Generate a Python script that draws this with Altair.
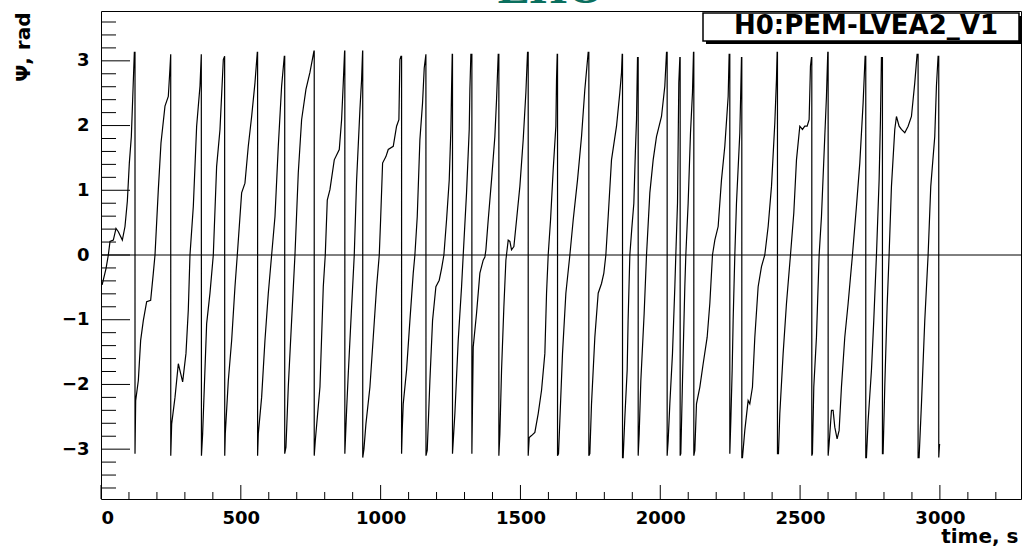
import altair as alt
import pandas as pd

# ---- data (time in s, phase in rad) ----
time_s = [
    4, 17.9, 26.2, 32.2, 44.1, 53.7, 62, 76.3, 85.8, 94.2, 101.3, 108.5, 113.2, 119.2, 121.6, 121.6,
    124, 133.5, 141.8, 151.4, 163.3, 177.6, 187.1, 193.1, 205, 214.5, 228.8, 240.7, 246.7, 249.3, 249.5,
    252.7, 264.6, 276.5, 284.8, 292, 303.9, 312.2, 318.2, 330.1, 342, 354, 358.7, 359.2,
    363.5, 369.5, 377.8, 389.7, 401.6, 413.5, 425.5, 437.4, 442.1, 442.5,
    444.5, 455.3, 467.2, 479.1, 487.4, 502.9, 514.8, 526.7, 538.7, 550.6, 558.9, 560, 560,
    562.5, 574.4, 586.3, 598.3, 610.2, 622.1, 634, 645.9, 655.5, 657, 657,
    661.4, 669.7, 681.7, 693.6, 705.5, 717.4, 732.9, 747.2, 761.5, 762.5, 762.5,
    766.3, 783, 794.9, 802, 809.2, 818.7, 834.2, 852.1, 860.4, 866.4, 871.1, 872, 872,
    878.3, 884.3, 896.2, 905.7, 914.1, 926, 931.9, 935.5, 936, 936,
    940.3, 947.4, 961.7, 973.6, 985.6, 995.1, 999.9, 1007, 1018.9, 1027.2, 1045.1, 1057, 1065.3, 1068.9, 1072.5, 1074.9, 1074.9,
    1077.2, 1080.8, 1092.7, 1104.7, 1116.6, 1122.5, 1130.9, 1140.4, 1149.9, 1155.9, 1161.9, 1162.2,
    1166.6, 1176.2, 1185.7, 1197.6, 1209.5, 1217.9, 1226.2, 1235.7, 1245.3, 1251.2, 1253.6, 1256, 1257, 1257,
    1265.5, 1277.4, 1289.4, 1295.3, 1307.2, 1316.8, 1319.2, 1322.7, 1326.3, 1326.3,
    1329, 1331.1, 1343, 1354.9, 1366.8, 1372.8, 1376.4, 1384.7, 1396.6, 1408.5, 1414.5, 1420.5, 1422.8, 1422.8,
    1426.4, 1432.4, 1440.7, 1447.9, 1456.2, 1462.2, 1468.1, 1476.5, 1486, 1497.9, 1509.8, 1519.4, 1525.3, 1527.7, 1527.7,
    1531.3, 1539.6, 1551.5, 1563.5, 1575.4, 1587.3, 1593.3, 1599.2, 1607.6, 1617.1, 1626.6, 1629, 1631.4, 1632.6, 1632.6,
    1636.2, 1640.9, 1650.4, 1662.4, 1676.7, 1688.6, 1704.1, 1718.4, 1730.3, 1742.2, 1744.6, 1744.6,
    1748.2, 1754.1, 1766, 1778, 1789.9, 1798.2, 1805.4, 1813.7, 1825.6, 1843.5, 1855.4, 1861.4, 1863.8, 1865, 1865,
    1867.3, 1873.3, 1881.6, 1885, 1891.2, 1898, 1905.5, 1911, 1915, 1918.6, 1921, 1921,
    1924.6, 1930.5, 1942.4, 1950.8, 1962.7, 1974.6, 1986.5, 2004.4, 2016.3, 2022.3, 2024.6, 2024.6,
    2028.2, 2034.2, 2043.7, 2052.1, 2055.6, 2061.6, 2066.3, 2070, 2071.1, 2071.1,
    2073.5, 2079.5, 2087.8, 2091.4, 2099.7, 2108.1, 2115.2, 2118.8, 2120, 2120,
    2123.6, 2129.5, 2141.5, 2153.4, 2167.7, 2177.2, 2186.7, 2195.1, 2207, 2218.9, 2230.8, 2242.8, 2246.3, 2248.7, 2248.7,
    2252.3, 2257.1, 2260.6, 2266.6, 2272.5, 2284.5, 2288, 2290.4, 2291.6, 2291.6,
    2294, 2302.3, 2314.2, 2320.2, 2329.7, 2338.1, 2350, 2361.9, 2373.8, 2385.8, 2397.7, 2409.6, 2415.5, 2417.9, 2419.1, 2419.1,
    2422.7, 2427.5, 2439.4, 2451.3, 2465.6, 2477.5, 2487.1, 2499, 2508.5, 2516.8, 2525.2, 2532.3, 2537.1, 2540.7, 2541.9, 2541.9,
    2544.2, 2549, 2558.5, 2568.1, 2576.4, 2588.3, 2594.3, 2599, 2600.3, 2600.3,
    2603.8, 2612.2, 2618.1, 2624.1, 2632.4, 2639.6, 2647.9, 2659.8, 2671.8, 2687.3, 2701.5, 2713.5, 2725.4, 2732.5, 2734.9, 2734.9,
    2737.3, 2743.3, 2755.2, 2763.5, 2773.1, 2782.6, 2787.4, 2790.9, 2794.5, 2794.5,
    2796.9, 2802.8, 2811.2, 2818.3, 2826.7, 2838.6, 2844.6, 2854.1, 2862.4, 2874.4, 2886.3, 2898.2, 2910.1, 2918.4, 2922, 2922,
    2925.6, 2934, 2945.9, 2957.8, 2967.3, 2981.6, 2987.6, 2993.5, 2995.9, 2995.9,
    2998, 2999,
]
psi_rad = [
    -0.46, -0.21, 0, 0.21, 0.23, 0.41, 0.36, 0.23, 0.44, 0.83, 1.42, 1.83, 2.40, 3.13, 3.13, -3.07,
    -2.25, -1.94, -1.32, -1.01, -0.72, -0.70, -0.28, 0, 1.01, 1.73, 2.30, 2.45, 2.89, 3.10, -3.10,
    -2.61, -2.20, -1.68, -1.83, -1.96, -1.52, -0.85, 0, 0.75, 1.99, 2.61, 3.10, -3.10,
    -2.76, -2.04, -1.06, -0.59, 0, 1.37, 1.94, 3.02, 3.07, -3.10,
    -2.76, -1.94, -1.32, -0.49, 0, 0.96, 1.11, 1.68, 2.14, 2.66, 3.13, 3.13, -3.10,
    -2.76, -2.20, -1.32, -0.59, 0, 0.59, 1.68, 2.61, 3.07, 3.07, -3.07,
    -2.97, -2.04, -1.01, 0, 1.27, 2.09, 2.56, 2.82, 3.15, 3.15, -3.10,
    -2.87, -2.04, -0.49, 0, 0.85, 1.01, 1.47, 1.63, 2.09, 2.66, 3.15, 3.15, -3.07,
    -2.40, -1.83, -0.80, 0, 1.16, 2.25, 2.71, 3.15, 3.15, -3.13,
    -3.00, -2.61, -2.04, -1.27, -0.49, 0, 0.54, 1.42, 1.52, 1.63, 1.68, 1.99, 2.09, 3.02, 3.07, 3.07, -3.07,
    -2.71, -2.30, -1.78, -1.01, -0.28, 0, 0.59, 1.78, 2.35, 2.89, 3.10, -3.10,
    -3.02, -1.94, -1.01, -0.49, -0.39, -0.21, 0, 0.54, 1.16, 1.94, 2.56, 3.10, 3.10, -3.07,
    -2.45, -1.32, -0.49, 0, 0.96, 1.94, 2.56, 3.10, 3.10, -3.07,
    -2.14, -1.42, -0.90, -0.28, -0.08, -0.03, 0.08, 0.54, 1.16, 1.83, 2.40, 3.10, 3.10, -3.10,
    -2.76, -1.78, -0.80, -0.08, 0.23, 0.21, 0.08, 0.13, 0.54, 1.06, 1.78, 2.51, 3.13, 3.13, -3.10,
    -2.82, -2.79, -2.74, -2.45, -2.09, -1.52, -0.59, 0, 0.54, 1.32, 1.99, 2.71, 3.10, 3.10, -3.10,
    -3.07, -2.56, -1.52, -0.59, 0, 0.54, 1.16, 1.83, 2.56, 3.13, 3.13, -3.10,
    -3.07, -2.30, -1.27, -0.59, -0.44, -0.28, 0, 0.59, 1.47, 1.99, 2.51, 2.82, 3.10, 3.10, -3.13,
    -3.13, -2.51, -1.78, -1.00, 0, 0.40, 0.80, 1.60, 2.09, 3.05, 3.05, -3.10,
    -2.76, -1.94, -0.90, 0, 0.96, 1.47, 1.83, 2.14, 2.61, 3.13, 3.13, -3.10,
    -2.87, -2.30, -1.52, -0.49, 0, 0.80, 2.66, 3.05, 3.05, -3.10,
    -3.07, -1.94, -0.49, 0, 0.80, 1.89, 2.51, 3.13, 3.13, -3.10,
    -3.02, -2.30, -2.04, -1.68, -1.27, -0.75, 0, 0.23, 0.44, 1.16, 1.68, 2.45, 3.10, 3.10, -3.07,
    -2.56, -1.78, -1.01, 0, 0.80, 1.89, 2.56, 3.05, 3.05, -3.13,
    -3.13, -2.71, -2.25, -2.30, -2.04, -1.27, -0.49, -0.18, 0, 0.44, 1.06, 2.04, 2.71, 3.13, 3.13, -3.07,
    -3.07, -2.45, -1.52, -0.75, 0, 0.65, 1.47, 1.99, 1.94, 1.99, 1.99, 2.09, 2.92, 3.05, 3.05, -3.10,
    -3.07, -2.04, -1.27, 0, 0.59, 1.83, 2.45, 3.13, 3.13, -3.10,
    -2.92, -2.40, -2.40, -2.66, -2.84, -2.71, -2.04, -1.27, -0.75, 0, 0.75, 1.42, 2.35, 3.07, 3.07, -3.13,
    -3.13, -2.56, -1.78, -1.01, 0, 1.16, 2.09, 3.05, 3.05, -3.07,
    -3.07, -2.04, -0.80, 0, 1.06, 1.94, 2.14, 1.99, 1.94, 1.89, 1.99, 2.14, 2.66, 3.10, 3.10, -3.13,
    -3.13, -2.30, -1.01, 0, 1.06, 1.83, 2.61, 3.07, 3.07, -3.13,
    -2.97, -2.92,
]

x_major = [0, 500, 1000, 1500, 2000, 2500, 3000]
x_minor = [100, 200, 300, 400, 600, 700, 800, 900, 1100, 1200, 1300, 1400,
           1600, 1700, 1800, 1900, 2100, 2200, 2300, 2400, 2600, 2700, 2800,
           2900, 3100, 3200]
y_major = [-3, -2, -1, 0, 1, 2, 3]
y_minor = [-3.6, -3.4, -3.2, -2.8, -2.6, -2.4, -2.2, -1.8, -1.6, -1.4, -1.2,
           -0.8, -0.6, -0.4, -0.2, 0.2, 0.4, 0.6, 0.8, 1.2, 1.4, 1.6, 1.8,
           2.2, 2.4, 2.6, 2.8, 3.2, 3.4, 3.6]

channel_name = "H0:PEM-LVEA2_V1"
site_title = "LHO"

W, H = 920, 488
FONT = "DejaVu Sans"

xs = alt.Scale(domain=[0, 3290], nice=False, zero=False)
ys = alt.Scale(domain=[-3.77, 3.77], nice=False, zero=False)

df = pd.DataFrame({"t": time_s, "psi": psi_rad, "i": list(range(len(time_s)))})

line = alt.Chart(df).mark_line(color="black", strokeWidth=1.2, clip=True).encode(
    x=alt.X("t:Q", scale=xs, axis=alt.Axis(
        values=x_major, format="d", title="time, s", labelPadding=10,
        titleX=917, titleY=43, titleAlign="right", titleBaseline="alphabetic",
        titleAngle=0, titleFontSize=20)),
    y=alt.Y("psi:Q", scale=ys, axis=alt.Axis(
        values=y_major, format="d", title="Ψ, rad", labelPadding=12,
        titleX=-78, titleY=1, titleAlign="right", titleBaseline="middle",
        titleAngle=270, titleFontSize=20)),
    order="i:Q",
)

zero_line = alt.Chart(pd.DataFrame({"psi": [0]})).mark_rule(
    color="black", strokeWidth=1).encode(y=alt.Y("psi:Q", scale=ys))

y_major_ticks = alt.Chart(pd.DataFrame({"psi": y_major})).mark_rule(
    color="black", strokeWidth=1).encode(
    y=alt.Y("psi:Q", scale=ys), x=alt.value(0), x2=alt.value(29))
y_minor_ticks = alt.Chart(pd.DataFrame({"psi": y_minor})).mark_rule(
    color="black", strokeWidth=1).encode(
    y=alt.Y("psi:Q", scale=ys), x=alt.value(0), x2=alt.value(15))
x_major_ticks = alt.Chart(pd.DataFrame({"t": x_major})).mark_rule(
    color="black", strokeWidth=1).encode(
    x=alt.X("t:Q", scale=xs), y=alt.value(H), y2=alt.value(H - 14))
x_minor_ticks = alt.Chart(pd.DataFrame({"t": x_minor})).mark_rule(
    color="black", strokeWidth=1).encode(
    x=alt.X("t:Q", scale=xs), y=alt.value(H), y2=alt.value(H - 7))

box_df = pd.DataFrame({"label": [channel_name]})
shadow = alt.Chart(box_df).mark_rect(color="black").encode(
    x=alt.value(605), x2=alt.value(921), y=alt.value(5), y2=alt.value(33))
box = alt.Chart(box_df).mark_rect(fill="white", stroke="black", strokeWidth=1.5).encode(
    x=alt.value(602), x2=alt.value(918), y=alt.value(2), y2=alt.value(30))
box_text = alt.Chart(box_df).mark_text(
    font=FONT, fontWeight="bold", fontSize=26, color="black",
    align="center", baseline="alphabetic").encode(
    text="label:N", x=alt.value(765), y=alt.value(23))

title_df = pd.DataFrame({"label": [site_title]})
title = alt.Chart(title_df).mark_text(
    font="Liberation Serif", fontWeight="bold", fontSize=48, color="#0b6f5e",
    align="center", baseline="alphabetic").encode(
    text="label:N", x=alt.value(450), y=alt.value(-8))

chart = alt.layer(
    line, zero_line, y_major_ticks, y_minor_ticks, x_major_ticks, x_minor_ticks,
    shadow, box, box_text, title,
).properties(
    width=W, height=H,
    autosize=alt.AutoSizeParams(type="none"),
    padding={"left": 101, "top": 11, "right": 1, "bottom": 49},
).configure(
    background="white",
).configure_view(
    stroke="black", strokeWidth=1,
).configure_axis(
    domain=False, ticks=False, grid=False,
    labelFont=FONT, labelFontWeight="bold", labelFontSize=18, labelColor="black",
    titleFont=FONT, titleFontWeight="bold", titleColor="black",
)

chart.save("out.html", embed_options={"renderer": "svg", "actions": False})
